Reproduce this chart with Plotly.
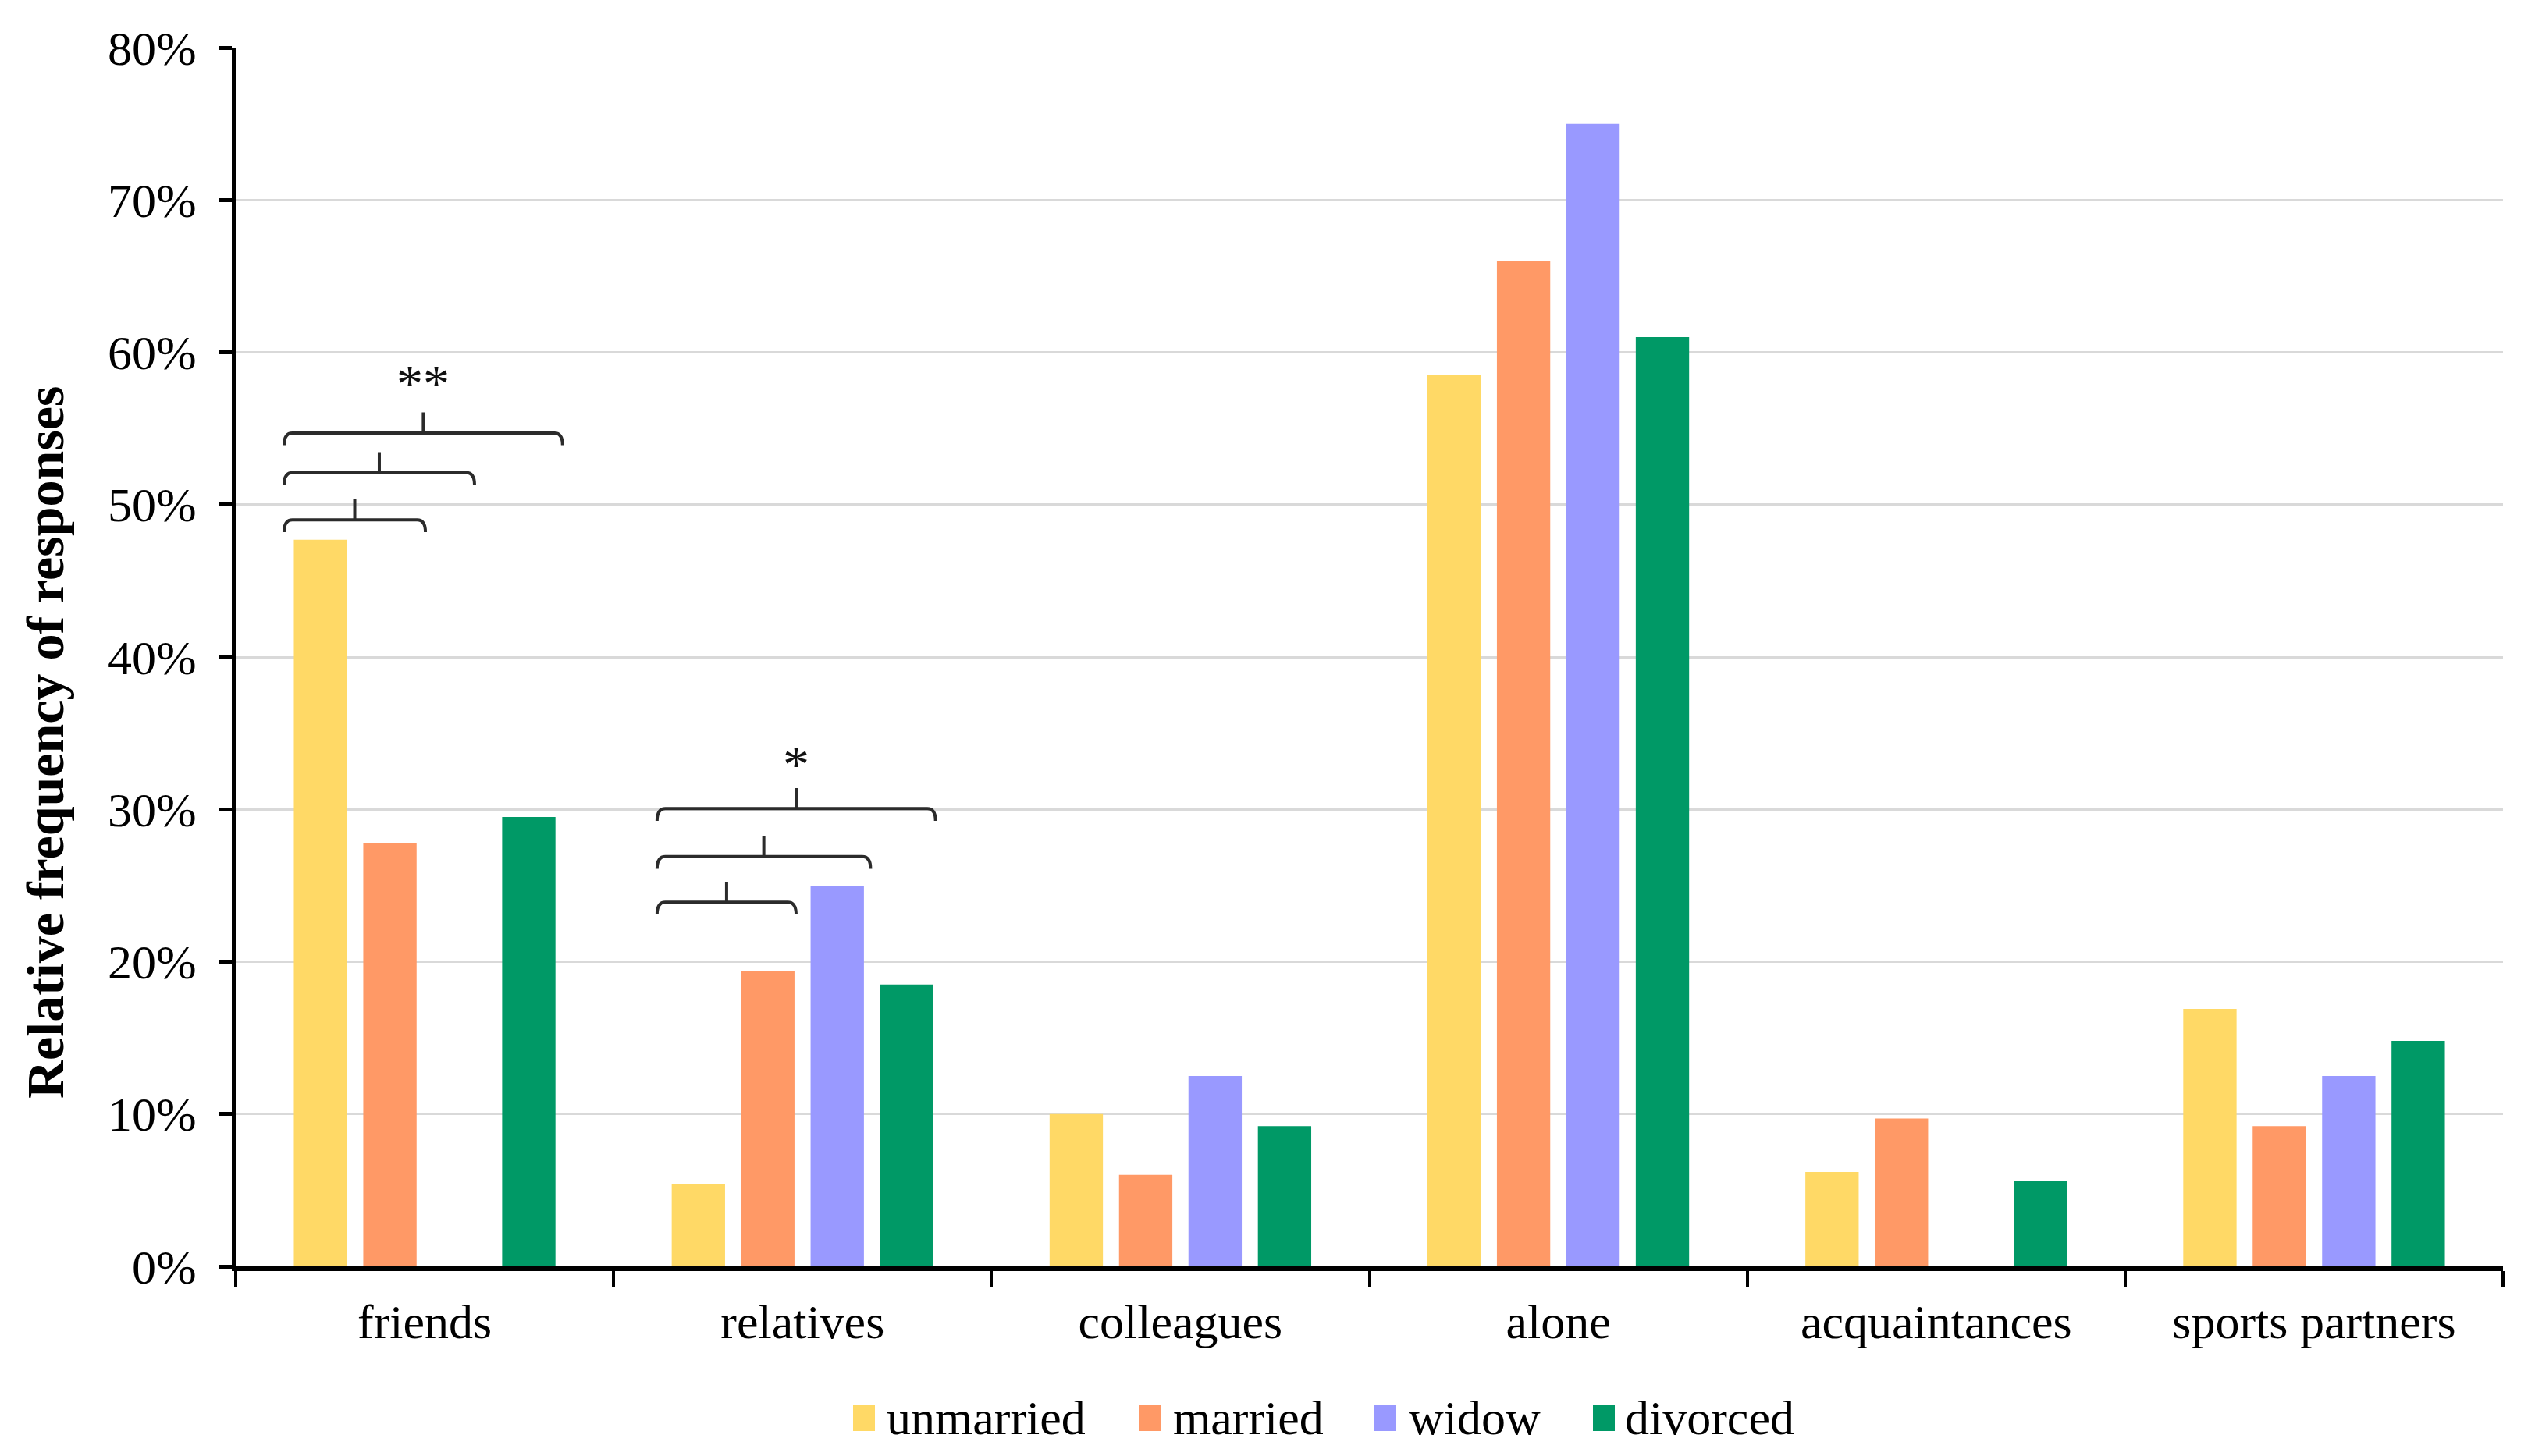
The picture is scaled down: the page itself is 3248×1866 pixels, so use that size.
import plotly.graph_objects as go

categories = ["friends", "relatives", "colleagues", "alone", "acquaintances", "sports partners"]
series_names = ["unmarried", "married", "widow", "divorced"]
unmarried = [47.7, 5.4, 10.0, 58.5, 6.2, 16.9]
married = [27.8, 19.4, 6.0, 66.0, 9.7, 9.2]
widow = [0.0, 25.0, 12.5, 75.0, 0.0, 12.5]
divorced = [29.5, 18.5, 9.2, 61.0, 5.6, 14.8]
colors = ["#FFD966", "#FF9966", "#9999FF", "#009966"]

y_tickvals = [0, 10, 20, 30, 40, 50, 60, 70, 80]
y_ticktext = ["0%", "10%", "20%", "30%", "40%", "50%", "60%", "70%", "80%"]

# significance brackets (category index, start/end offset within category, height in %)
bracket_cat = [0, 0, 0, 1, 1, 1]
bracket_x0 = [-0.372, -0.372, -0.372, -0.385, -0.385, -0.385]
bracket_x1 = [0.002, 0.132, 0.365, -0.017, 0.180, 0.352]
bracket_y = [49.0, 52.1, 54.7, 23.9, 26.9, 30.05]
star_cat = [0, 1]
star_dx = [-0.004, -0.017]
star_y = [58.0, 33.0]
star_text = ["**", "*"]

FONT = "Liberation Serif"
FS = 62

# figure geometry (page has an 8px body margin)
W, H = 3232, 1850
ML, MT, MR, MB = 294, 53, 33, 235
PW = W - ML - MR
PH = H - MT - MB

fig = go.Figure()
for name, vals, col in zip(series_names, [unmarried, married, widow, divorced], colors):
    fig.add_trace(go.Bar(x=categories, y=vals, name=name, showlegend=False,
                         marker=dict(color=col, line=dict(width=0))))

shapes = []
hook = 0.8
tick_h = 1.35
cdx = 0.022
for c, a, b, y in zip(bracket_cat, bracket_x0, bracket_x1, bracket_y):
    x0 = c + a
    x1 = c + b
    xm = (x0 + x1) / 2
    path = (f"M {x0},{y - hook} Q {x0},{y} {x0 + cdx},{y} "
            f"L {x1 - cdx},{y} Q {x1},{y} {x1},{y - hook} "
            f"M {xm},{y} L {xm},{y + tick_h}")
    shapes.append(dict(type="path", path=path, xref="x", yref="y",
                       line=dict(color="#2b2b2b", width=4)))

annotations = []
for c, dx, y, t in zip(star_cat, star_dx, star_y, star_text):
    annotations.append(dict(x=c + dx, y=y, xref="x", yref="y", text=t, showarrow=False,
                            font=dict(family=FONT, size=68, color="#111111"),
                            xanchor="center", yanchor="middle"))

# y-axis title (positioned like the original, offset below plot centre)
annotations.append(dict(x=(50 - ML) / PW, y=(H - MB - 944) / PH, xref="paper", yref="paper",
                        text="<b>Relative frequency of responses</b>", textangle=-90,
                        showarrow=False, xanchor="center", yanchor="middle",
                        font=dict(family=FONT, size=68, color="black")))

# manual legend (pixel positions within the figure)
leg_square_x = [1085, 1451, 1753, 2033]
leg_text_x = [1126, 1493, 1795, 2072]
leg_y = 1809
sq = 28
for name, col, sx, tx in zip(series_names, colors, leg_square_x, leg_text_x):
    shapes.append(dict(type="rect", xref="paper", yref="paper",
                       x0=(sx - ML) / PW, x1=(sx + sq - ML) / PW,
                       y0=(H - MB - (leg_y + 17)) / PH, y1=(H - MB - (leg_y - 17)) / PH,
                       fillcolor=col, line=dict(width=0)))
    annotations.append(dict(x=(tx - ML) / PW, y=(H - MB - leg_y) / PH, xref="paper", yref="paper",
                            text=name, showarrow=False, xanchor="left", yanchor="middle",
                            font=dict(family=FONT, size=FS, color="black")))

fig.update_layout(
    width=W, height=H,
    paper_bgcolor="white", plot_bgcolor="white",
    margin=dict(l=ML, r=MR, t=MT, b=MB, autoexpand=False),
    barmode="group", bargap=0.265, bargroupgap=0.232,
    font=dict(family=FONT, size=FS, color="black"),
    shapes=shapes, annotations=annotations,
    showlegend=False,
)
fig.update_xaxes(type="category", tickson="boundaries", ticks="outside", ticklen=20,
                 tickwidth=4, tickcolor="black", showline=True, linecolor="black", linewidth=6,
                 showgrid=False, tickfont=dict(family=FONT, size=FS, color="black"),
                 ticklabelstandoff=12)
fig.update_yaxes(range=[0, 80], tickvals=y_tickvals, ticktext=y_ticktext, ticks="outside",
                 ticklen=17, tickwidth=5, tickcolor="black", showline=True, linecolor="black",
                 linewidth=5, showgrid=True, gridcolor="#D9D9D9", gridwidth=3, zeroline=False,
                 tickfont=dict(family=FONT, size=FS, color="black"), ticklabelstandoff=16)

fig.write_html("out.html")
